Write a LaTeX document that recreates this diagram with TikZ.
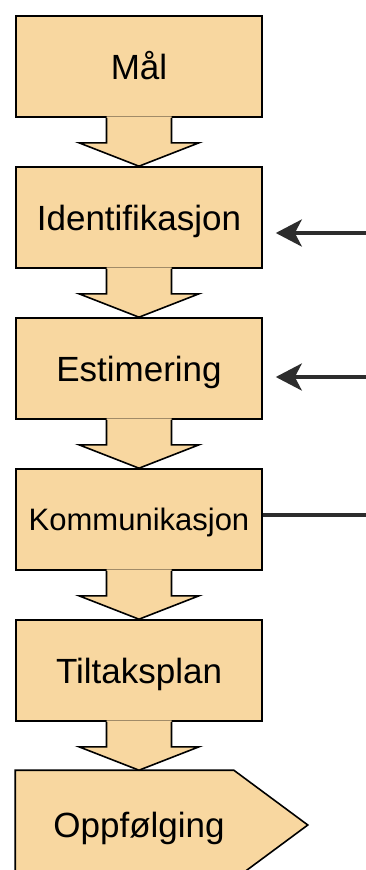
\documentclass[tikz,border=0pt]{standalone}
\usepackage{fontspec}
\setmainfont{Liberation Sans}
\usetikzlibrary{arrows.meta,positioning,calc,backgrounds}
\definecolor{boxtan}{RGB}{248,215,160}
\definecolor{linegray}{RGB}{45,45,45}

\begin{document}
\begin{tikzpicture}[x=1pt,y=-1pt,node distance=151pt,on grid,
    stepbox/.style={rectangle,draw=black,line width=1.6pt,fill=boxtan,
      minimum width=246pt,minimum height=101pt,inner sep=0pt,
      text height=25pt,text depth=0pt,font=\fontsize{35}{40}\selectfont},
    feedline/.style={draw=linegray,line width=3.5pt},
    feedarrow/.style={feedline,shorten >=13pt,-{Stealth[length=26pt,width=27pt,inset=7pt]}}]
  \useasboundingbox (0,0) rectangle (365,870);
  \begin{scope}[on background layer]
    \fill[white] (0,0) rectangle (365,870);
  \end{scope}

  % Steps
  \node[stepbox] (maal) at (139,66.5) {Mål};
  \node[stepbox] (ident) [below=of maal] {Identifikasjon};
  \node[stepbox] (estim) [below=of ident] {Estimering};
  \node[stepbox, text height=22pt, font=\fontsize{31}{36}\selectfont] (komm) [below=of estim] {Kommunikasjon};
  \node[stepbox] (tiltak) [below=of komm] {Tiltaksplan};
  \node[stepbox, draw=none, fill=none, minimum height=108pt] (oppf) [below=154.5pt of tiltak] {Oppfølging};
  \begin{scope}[on background layer]
    \draw[line width=1.6pt, fill=boxtan] (oppf.north west) -- ([xshift=-29pt]oppf.north east)
      -- ([xshift=45pt]oppf.east) -- ([xshift=-29pt]oppf.south east) -- (oppf.south west) -- cycle;
  \end{scope}

  % Block arrows between steps
  \foreach \a/\b in {maal/ident,ident/estim,estim/komm,komm/tiltak,tiltak/oppf} {
    \fill[boxtan] ($(\a.south)+(-32.5,-1.5)$) -- ($(\a.south)+(-32.5,25)$) -- ($(\a.south)+(-60,25)$)
      -- (\b.north) -- ($(\a.south)+(60,25)$) -- ($(\a.south)+(32.5,25)$) -- ($(\a.south)+(32.5,-1.5)$) -- cycle;
    \draw[line width=1.6pt, line join=miter] ($(\a.south)+(-32.5,0)$) -- ($(\a.south)+(-32.5,25)$) -- ($(\a.south)+(-60,25)$)
      -- (\b.north) -- ($(\a.south)+(60,25)$) -- ($(\a.south)+(32.5,25)$) -- ($(\a.south)+(32.5,0)$);
  }

  % Feedback
  \coordinate (kommOut) at ($(komm.east)+(0,-4.5)$);
  \coordinate (back) at ($(kommOut)+(105.5,0)$);
  \coordinate (identIn) at ($(ident.east)+(0,15.5)$);
  \coordinate (estimIn) at ($(estim.east)+(0,8.5)$);
  \draw[feedline] (kommOut) -- (back) -- (back |- identIn);
  \draw[feedarrow] (back |- identIn) -- (identIn);
  \draw[feedarrow] (back |- estimIn) -- (estimIn);
\end{tikzpicture}
\end{document}
